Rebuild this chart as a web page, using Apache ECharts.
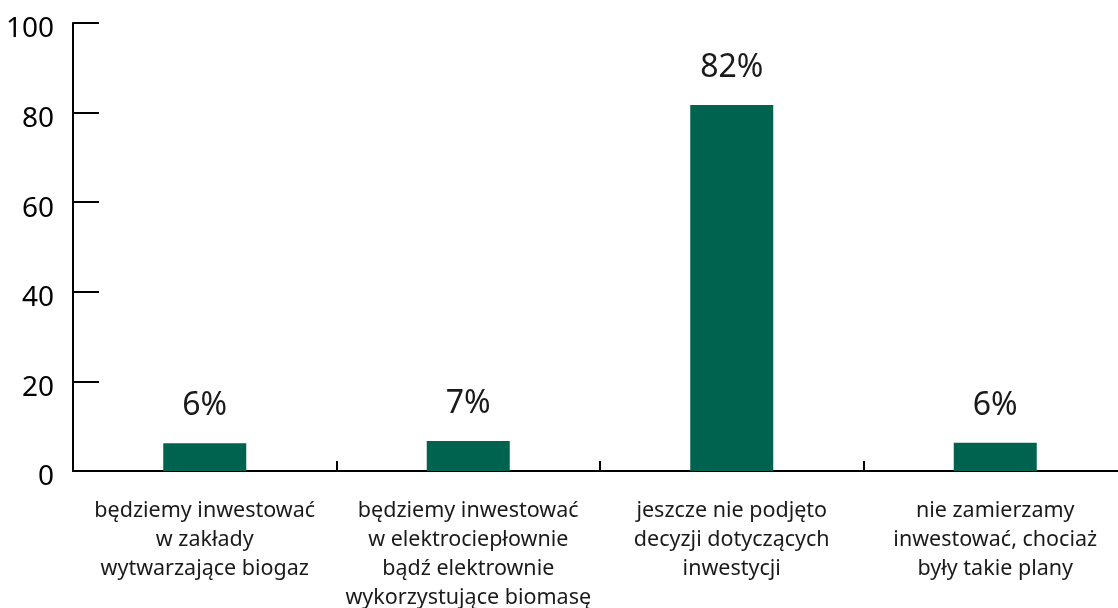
<!DOCTYPE html>
<html><head><meta charset="utf-8">
<script src="https://cdn.jsdelivr.net/npm/echarts@6/dist/echarts.min.js"></script>
<style>html,body{margin:0;padding:0;background:#fff}#c{width:1118px;height:608px}</style>
</head><body><div id="c"></div>
<script>
const categories = [
  "będziemy inwestować\nw zakłady\nwytwarzające biogaz",
  "będziemy inwestować\nw elektrociepłownie\nbądź elektrownie\nwykorzystujące biomasę",
  "jeszcze nie podjęto\ndecyzji dotyczących\ninwestycji",
  "nie zamierzamy\ninwestować, chociaż\nbyły takie plany"
];
const values = [6.2, 6.7, 81.7, 6.3];
const valueLabels = ["6%", "7%", "82%", "6%"];
const yTicks = [0, 20, 40, 60, 80, 100];

const FONT = "Noto Sans";
const chart = echarts.init(document.getElementById('c'), null, {renderer: 'canvas'});
chart.setOption({
  animation: false,
  backgroundColor: '#fff',
  grid: {left: 73, top: 23, width: 1054, height: 448, containLabel: false, outerBoundsMode: 'none'},
  xAxis: {
    type: 'category',
    data: categories,
    boundaryGap: true,
    axisLine: {lineStyle: {color: '#000', width: 2}},
    axisTick: {show: true, inside: true, length: 10, lineStyle: {color: '#000', width: 2}},
    axisLabel: {interval: 0, color: '#1a1a1a', fontFamily: FONT, fontSize: 21.5, lineHeight: 29, margin: 25}
  },
  yAxis: {
    type: 'value',
    min: yTicks[0], max: yTicks[yTicks.length - 1], interval: 20,
    splitLine: {show: false},
    axisLine: {show: true, lineStyle: {color: '#000', width: 2}},
    axisTick: {show: true, inside: true, length: 26, lineStyle: {color: '#000', width: 2}},
    axisLabel: {
      margin: 19,
      formatter: v => '{a|' + v + '}',
      rich: {a: {color: '#000', fontFamily: FONT, fontSize: 28, padding: [13, 0, 0, 0]}}
    }
  },
  series: [{
    type: 'bar',
    data: values,
    barWidth: 83,
    itemStyle: {color: '#00634F'},
    label: {
      show: true, position: 'top', distance: 21,
      color: '#1a1a1a', fontFamily: FONT, fontSize: 32,
      formatter: p => valueLabels[p.dataIndex]
    }
  }]
});
</script></body></html>
